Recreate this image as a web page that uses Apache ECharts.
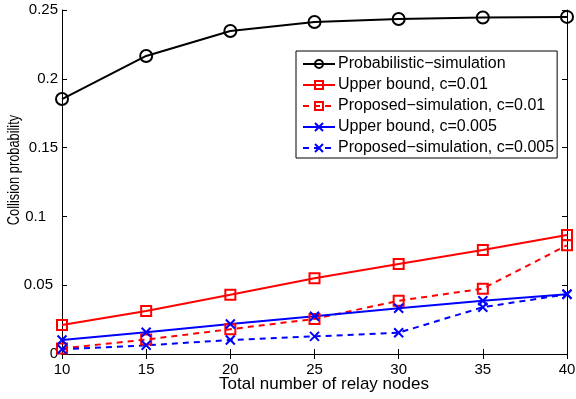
<!DOCTYPE html>
<html><head><meta charset="utf-8">
<script src="https://cdn.jsdelivr.net/npm/echarts@6/dist/echarts.min.js"></script>
<style>html,body{margin:0;padding:0;background:#fff}#c{width:576px;height:399px}</style>
</head><body><div id="c"></div>
<script>
var nodes = [10, 15, 20, 25, 30, 35, 40];
var probSim = [0.1853, 0.2166, 0.2347, 0.2413, 0.2435, 0.2445, 0.2450];
var upper001 = [0.0211, 0.0312, 0.0431, 0.0550, 0.0654, 0.0756, 0.0865];
var prop001 = [0.0040, 0.0105, 0.0180, 0.0255, 0.0387, 0.0475, 0.0790];
var upper0005 = [0.0102, 0.0158, 0.0218, 0.0274, 0.0332, 0.0387, 0.0434];
var prop0005 = [0.0034, 0.0063, 0.0102, 0.0128, 0.0155, 0.0340, 0.0434];
var names = ['Probabilistic\u2212simulation', 'Upper bound, c=0.01', 'Proposed\u2212simulation, c=0.01', 'Upper bound, c=0.005', 'Proposed\u2212simulation, c=0.005'];
var xTitle = 'Total number of relay nodes';
var yTitle = 'Collision probability';
var xTicks = [10, 15, 20, 25, 30, 35, 40];
var yTicks = [0, 0.05, 0.1, 0.15, 0.2, 0.25];

var FONT = 'Liberation Sans';
var crossPath = 'path://M0,0L10,10M10,0L0,10';
function pairs(v){ return nodes.map(function(x,i){return [x, v[i]];}); }
function mk(name, data, color, dashed, symbol, size){
  return {
    name: name, type: 'line', data: pairs(data),
    symbol: symbol, symbolSize: size,
    lineStyle: {color: color, width: 2, type: dashed ? [6, 5] : 'solid'},
    itemStyle: {color: 'rgba(0,0,0,0)', borderColor: color, borderWidth: 2},
    emphasis: {disabled: true}, animation: false, z: 3
  };
}
var chart = echarts.init(document.getElementById('c'));
var axisCommon = {
  type: 'value', min: 10, max: 40, interval: 5,
  axisLine: {show: true, lineStyle: {color: '#000', width: 1}},
  axisTick: {show: true, inside: true, length: 5, lineStyle: {color: '#000'}},
  splitLine: {show: false}
};
var yLabelRich = {
  n: {fontFamily: FONT, fontSize: 15, color: '#000'},
  p1: {fontFamily: FONT, fontSize: 15, color: '#000', padding: [0, 12, 0, 0]},
  p5: {fontFamily: FONT, fontSize: 15, color: '#000', padding: [0, 5, 0, 0]}
};
chart.setOption({
  animation: false,
  backgroundColor: '#fff',
  grid: {left: 62, right: 9, top: 10, bottom: 45, containLabel: false, outerBoundsMode: 'none'},
  xAxis: [
    Object.assign({}, axisCommon, {position: 'bottom',
      axisLabel: {fontFamily: FONT, fontSize: 15, color: '#000', margin: 8}}),
    Object.assign({}, axisCommon, {position: 'top', axisLabel: {show: false}})
  ],
  yAxis: [
    {type: 'value', min: 0, max: 0.25, interval: 0.05, position: 'left',
      axisLine: {show: true, onZero: false, lineStyle: {color: '#000'}},
      axisTick: {show: true, inside: true, length: 5, lineStyle: {color: '#000'}},
      axisLabel: {margin: 4, rich: yLabelRich,
        formatter: function(v){
          var s = String(+v.toFixed(2));
          if (s === '0.1') return '{p1|' + s + '}';
          if (s === '0.05') return '{p5|' + s + '}';
          return '{n|' + s + '}';
        }},
      splitLine: {show: false}},
    {type: 'value', min: 0, max: 0.25, interval: 0.05, position: 'right',
      axisLine: {show: true, onZero: false, lineStyle: {color: '#000'}},
      axisTick: {show: true, inside: true, length: 5, lineStyle: {color: '#000'}},
      axisLabel: {show: false}, splitLine: {show: false}}
  ],
  legend: {
    orient: 'vertical', left: 296, top: 51,
    backgroundColor: '#fff', borderColor: '#000', borderWidth: 1, borderRadius: 0,
    padding: [5, 3, 2, 6], itemGap: 5, itemWidth: 32, itemHeight: 10,
    textStyle: {fontFamily: FONT, fontSize: 16, lineHeight: 16, color: '#000', padding: [0, 0, 0, -2]},
    data: names, selectedMode: false
  },
  graphic: [
    {type: 'text', x: 324, y: 384,
      style: {text: xTitle, fontFamily: FONT, fontSize: 17, fill: '#000', align: 'center', verticalAlign: 'middle'}},
    {type: 'text', x: 15, y: 170, rotation: Math.PI / 2, scaleX: 0.8,
      style: {text: yTitle, fontFamily: FONT, fontSize: 16, fill: '#000', align: 'center', verticalAlign: 'middle'}}
  ],
  series: [
    mk(names[0], probSim, '#000', false, 'circle', 12),
    mk(names[1], upper001, '#ff0000', false, 'rect', 10),
    mk(names[2], prop001, '#ff0000', true, 'rect', 10),
    mk(names[3], upper0005, '#0000ff', false, crossPath, 9),
    mk(names[4], prop0005, '#0000ff', true, crossPath, 9)
  ]
});
</script></body></html>
